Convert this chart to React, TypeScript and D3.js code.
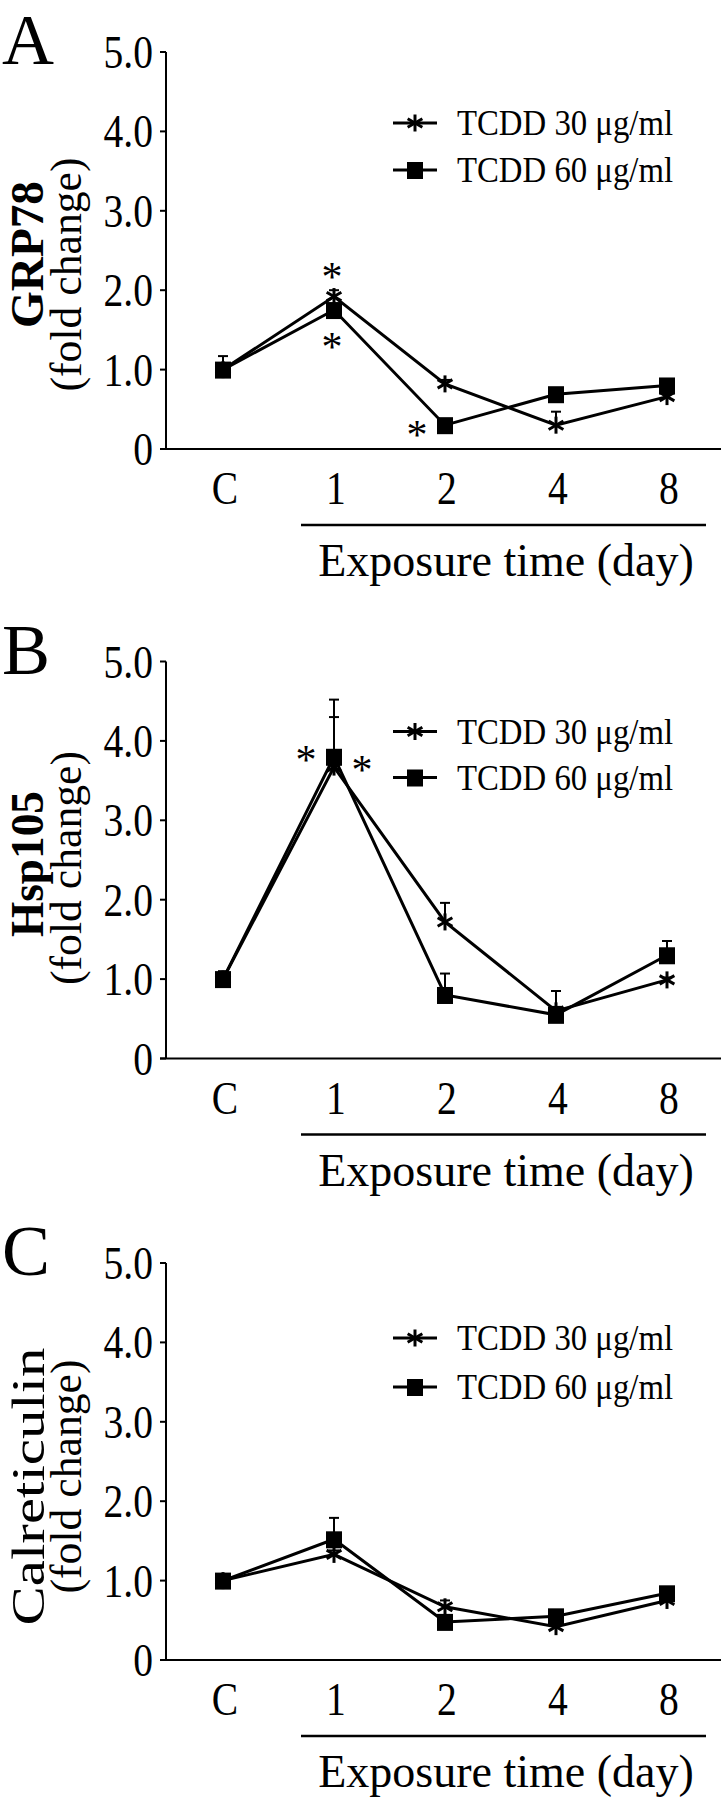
import React from "react";
import * as d3 from "d3";

const categories = ["C", "1", "2", "4", "8"];
const yTickValues = [0, 1, 2, 3, 4, 5];
const yTickLabels = ["0", "1.0", "2.0", "3.0", "4.0", "5.0"];
const seriesNames = ["TCDD 30 μg/ml", "TCDD 60 μg/ml"];
const panelLetters = ["A", "B", "C"];
const proteinNames = ["GRP78", "Hsp105", "Calreticulin"];
const proteinBold = [true, true, false];
const xAxisTitle = "Exposure time (day)";
const yAxisSubtitle = "(fold change)";

// GRP78
const grp78_30 = [1.0, 1.92, 0.82, 0.3, 0.66];
const grp78_60 = [1.0, 1.75, 0.3, 0.69, 0.8];
const grp78_err30 = [0.05, 0.08, 0.05, 0.17, 0.03];
const grp78_err60 = [0.17, 0.05, 0.05, 0.05, 0.05];
const grp78_stars = [
  { cat: "1", value: 2.23, side: "center" },
  { cat: "1", value: 1.35, side: "center" },
  { cat: "2", value: 0.24, side: "left" },
];

// Hsp105
const hsp105_30 = [1.0, 3.67, 1.72, 0.6, 0.99];
const hsp105_60 = [1.0, 3.8, 0.8, 0.55, 1.3];
const hsp105_err30 = [0.05, 0.63, 0.24, 0.25, 0.03];
const hsp105_err60 = [0.1, 0.72, 0.27, 0.1, 0.18];
const hsp105_stars = [
  { cat: "1", value: 3.82, side: "left" },
  { cat: "1", value: 3.7, side: "right" },
];

// Calreticulin
const calr_30 = [1.0, 1.33, 0.67, 0.42, 0.75];
const calr_60 = [1.0, 1.52, 0.48, 0.55, 0.84];
const calr_err30 = [0.05, 0.05, 0.08, 0.05, 0.05];
const calr_err60 = [0.08, 0.27, 0.05, 0.05, 0.05];
const calr_stars: { cat: string; value: number; side: string }[] = [];

const FONT = "'Liberation Serif', 'Times New Roman', serif";

type Star = { cat: string; value: number; side: string };
type PanelProps = {
  top: number;
  letter: string;
  protein: string;
  bold: boolean;
  titleLen: number;
  titleDy: number;
  subDy: number;
  s30: number[];
  s60: number[];
  e30: number[];
  e60: number[];
  stars: Star[];
  legendRows: [number, number];
};

const AXIS_H = 397;
const AXIS_X = 166;
const CONDENSE = 0.86;

function Asterisk({ x, y, r = 8.5 }: { x: number; y: number; r?: number }) {
  const lines = [90, 30, 150].map((deg) => {
    const a = (deg * Math.PI) / 180;
    return [x - r * Math.cos(a), y - r * Math.sin(a), x + r * Math.cos(a), y + r * Math.sin(a)];
  });
  return (
    <g stroke="#000" strokeWidth={3}>
      {lines.map((l, i) => (
        <line key={i} x1={l[0]} y1={l[1]} x2={l[2]} y2={l[3]} />
      ))}
    </g>
  );
}

function Square({ x, y, s = 16 }: { x: number; y: number; s?: number }) {
  return <rect x={x - s / 2} y={y - s / 2} width={s} height={s + 1} fill="#000" />;
}

function CText({ x, y, anchor, size, children }: any) {
  return (
    <g transform={`translate(${x},${y}) scale(${CONDENSE},1)`}>
      <text x={0} y={0} textAnchor={anchor} fontFamily={FONT} fontSize={size}>
        {children}
      </text>
    </g>
  );
}

function Panel(p: PanelProps) {
  const y = d3.scaleLinear().domain([0, 5]).range([p.top + AXIS_H, p.top]);
  const x = d3.scalePoint<string>().domain(categories).range([223, 667]);
  const line = d3
    .line<number>()
    .x((_, i) => x(categories[i]) as number)
    .y((d) => y(d));
  const y0 = y(0);
  const mid = (y(0) + y(5)) / 2;
  const errBar = (vals: number[], errs: number[], key: string) =>
    vals.map((v, i) => {
      const cx = x(categories[i]) as number;
      if (!errs[i]) return null;
      return (
        <g key={key + i} stroke="#000" strokeWidth={2}>
          <line x1={cx} x2={cx} y1={y(v)} y2={y(v + errs[i])} />
          <line x1={cx - 5} x2={cx + 5} y1={y(v + errs[i])} y2={y(v + errs[i])} />
        </g>
      );
    });
  return (
    <g>
      <text x={2} y={p.top + 12} fontFamily={FONT} fontSize={72}>
        {p.letter}
      </text>
      {/* y axis title */}
      <text
        transform={`translate(${p.bold ? 43 : 44},${mid + p.titleDy}) rotate(-90)`}
        textAnchor="middle"
        fontFamily={FONT}
        fontWeight={p.bold ? "bold" : "normal"}
        fontSize={p.bold ? 46 : 47}
        textLength={p.titleLen}
        lengthAdjust="spacingAndGlyphs"
      >
        {p.protein}
      </text>
      <text
        transform={`translate(81,${mid + p.subDy}) rotate(-90)`}
        textAnchor="middle"
        fontFamily={FONT}
        fontSize={44}
        textLength={234}
        lengthAdjust="spacingAndGlyphs"
      >
        {yAxisSubtitle}
      </text>
      {/* axes */}
      <line x1={AXIS_X} x2={AXIS_X} y1={y(5)} y2={y0} stroke="#000" strokeWidth={2} />
      <line x1={160} x2={721} y1={y0} y2={y0} stroke="#000" strokeWidth={2} />
      {yTickValues.map((t, i) => (
        <g key={t}>
          <line x1={AXIS_X - 6} x2={AXIS_X} y1={y(t)} y2={y(t)} stroke="#000" strokeWidth={2} />
          <CText x={153} y={y(t) + 16} anchor="end" size={46}>
            {yTickLabels[i]}
          </CText>
        </g>
      ))}
      {categories.map((c) => (
        <CText key={c} x={(x(c) as number) + 2} y={y0 + 55} anchor="middle" size={46}>
          {c}
        </CText>
      ))}
      <line x1={301} x2={706} y1={y0 + 76} y2={y0 + 76} stroke="#000" strokeWidth={2.5} />
      <text x={506} y={y0 + 127} textAnchor="middle" fontFamily={FONT} fontSize={46}>
        {xAxisTitle}
      </text>
      {/* data */}
      {errBar(p.s30, p.e30, "e30")}
      {errBar(p.s60, p.e60, "e60")}
      <path d={line(p.s30) || ""} fill="none" stroke="#000" strokeWidth={3} />
      <path d={line(p.s60) || ""} fill="none" stroke="#000" strokeWidth={3} />
      {p.s30.map((v, i) => (
        <Asterisk key={"a" + i} x={x(categories[i]) as number} y={y(v)} />
      ))}
      {p.s60.map((v, i) => (
        <Square key={"s" + i} x={x(categories[i]) as number} y={y(v)} />
      ))}
      {p.stars.map((s, i) => {
        const cx = (x(s.cat) as number) + (s.side === "left" ? -28 : s.side === "right" ? 28 : -2);
        return (
          <text
            key={"st" + i}
            x={cx}
            y={y(s.value) + 19}
            textAnchor="middle"
            fontFamily={FONT}
            fontSize={42}
          >
            *
          </text>
        );
      })}
      {/* legend */}
      {seriesNames.map((name, i) => {
        const ly = p.top + p.legendRows[i];
        return (
          <g key={name}>
            <line x1={393} x2={437} y1={ly} y2={ly} stroke="#000" strokeWidth={3} />
            {i === 0 ? <Asterisk x={415} y={ly} /> : <Square x={415} y={ly} />}
            <text
              x={457}
              y={ly + 12}
              fontFamily={FONT}
              fontSize={35}
              textLength={216}
              lengthAdjust="spacingAndGlyphs"
            >
              {name}
            </text>
          </g>
        );
      })}
    </g>
  );
}

export default function App() {
  React.useEffect(() => {
    document.body.style.margin = "0";
  }, []);
  return (
    <svg
      width={726}
      height={1801}
      viewBox="0 0 726 1801"
      style={{ display: "block", position: "absolute", left: 0, top: 0, background: "#fff" }}
    >
      <rect width={726} height={1801} fill="#fff" />
      <Panel
        top={52}
        letter={panelLetters[0]}
        protein={proteinNames[0]}
        bold={proteinBold[0]}
        titleLen={147}
        titleDy={4}
        subDy={24}
        s30={grp78_30}
        s60={grp78_60}
        e30={grp78_err30}
        e60={grp78_err60}
        stars={grp78_stars}
        legendRows={[71, 118]}
      />
      <Panel
        top={661.5}
        letter={panelLetters[1]}
        protein={proteinNames[1]}
        bold={proteinBold[1]}
        titleLen={146}
        titleDy={4}
        subDy={8}
        s30={hsp105_30}
        s60={hsp105_60}
        e30={hsp105_err30}
        e60={hsp105_err60}
        stars={hsp105_stars}
        legendRows={[70, 116]}
      />
      <Panel
        top={1263}
        letter={panelLetters[2]}
        protein={proteinNames[2]}
        bold={proteinBold[2]}
        titleLen={278}
        titleDy={25}
        subDy={15}
        s30={calr_30}
        s60={calr_60}
        e30={calr_err30}
        e60={calr_err60}
        stars={calr_stars}
        legendRows={[75, 124]}
      />
    </svg>
  );
}
